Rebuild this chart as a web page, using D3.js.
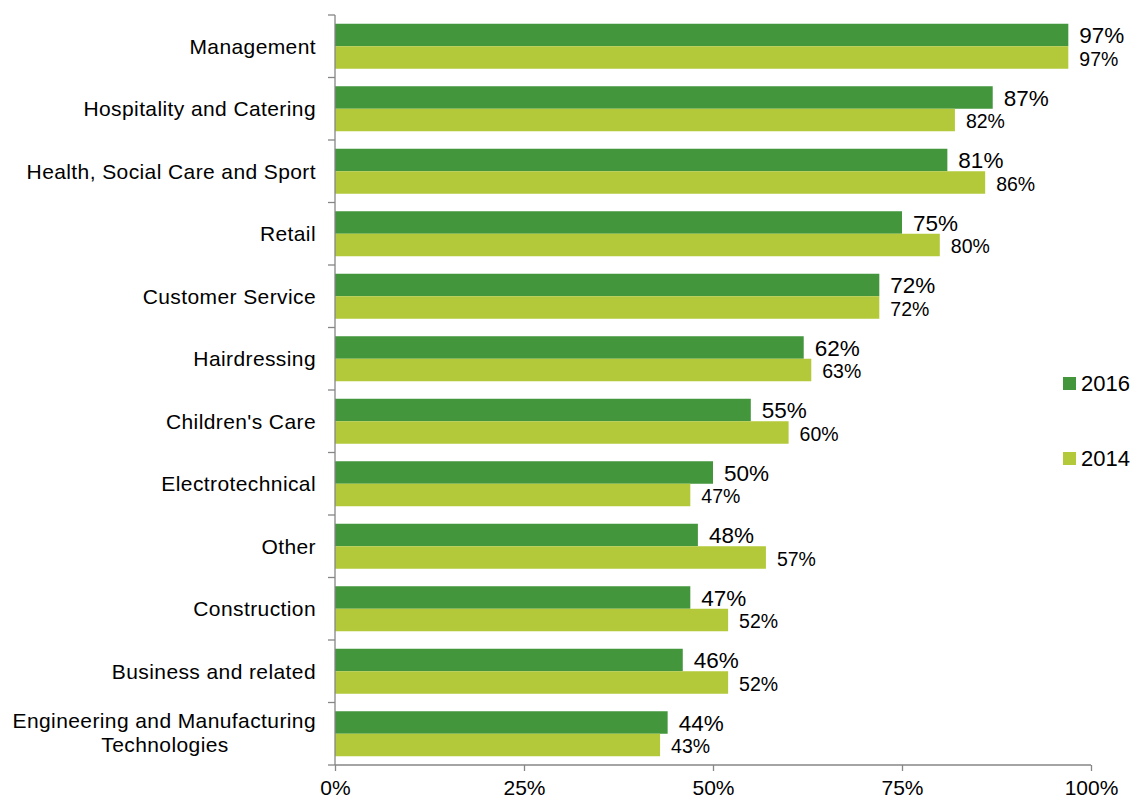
<!DOCTYPE html>
<html><head><meta charset="utf-8">
<script src="https://cdn.jsdelivr.net/npm/d3@7"></script>
<style>body{margin:0;background:#fff;} svg{display:block;font-family:"Liberation Sans",Arial,sans-serif;}</style>
</head><body><svg id="c" width="1136" height="801"></svg>
<script>
const categories = ["Management","Hospitality and Catering","Health, Social Care and Sport","Retail","Customer Service","Hairdressing","Children's Care","Electrotechnical","Other","Construction","Business and related","Engineering and Manufacturing Technologies"];
const values2016 = [97,87,81,75,72,62,55,50,48,47,46,44];
const values2014 = [97,82,86,80,72,63,60,47,57,52,52,43];
const seriesNames = ["2016","2014"];
const seriesColors = ["#43963c","#b3c93a"];
const xTicks = [0,25,50,75,100];

const svg = d3.select("#c");
const x = d3.scaleLinear().domain([0,100]).range([335,1091]);
const y = d3.scaleBand().domain(categories).range([15,765]).paddingInner(0.28).paddingOuter(0.14);
const sub = d3.scaleBand().domain(seriesNames).range([0,y.bandwidth()]);
const series = [values2016, values2014];

// bars
series.forEach((vals,si)=>{
  svg.append("g").selectAll("rect").data(categories).join("rect")
    .attr("x", x(0)).attr("y", d=>y(d)+sub(seriesNames[si]))
    .attr("width", (d,i)=>x(vals[i])-x(0)).attr("height", sub.bandwidth())
    .attr("fill", seriesColors[si]);
  svg.append("g").selectAll("text").data(categories).join("text")
    .attr("x",(d,i)=>x(vals[i])+ 11)
    .attr("y", d=>y(d)+sub(seriesNames[si])+sub.bandwidth()/2 + (si===0?0:1))
    .attr("dy", "0.36em")
    .attr("font-size", si===0?22.5:19.5).attr("fill","#000")
    .text((d,i)=>vals[i]+"%");
});

// y axis
const yAxis = svg.append("g");
yAxis.append("line").attr("x1",335).attr("x2",335).attr("y1",15).attr("y2",765).attr("stroke","#868686").attr("stroke-width",1.3);
const bounds = d3.range(categories.length+1).map(i=>15+i*y.step());
yAxis.selectAll("line.t").data(bounds).join("line").attr("class","t")
  .attr("x1",328).attr("x2",335).attr("y1",d=>d).attr("y2",d=>d).attr("stroke","#868686").attr("stroke-width",1.3);

// category labels
svg.append("g").selectAll("text").data(categories).join("text")
  .attr("font-size",21).attr("letter-spacing","0.4px").attr("fill","#000")
  .each(function(d){
    const t = d3.select(this);
    const cy = y(d)+y.bandwidth()/2;
    if(d==="Engineering and Manufacturing Technologies"){
      t.append("tspan").attr("text-anchor","end").attr("x",316).attr("y",cy-13).attr("dy","0.35em").text("Engineering and Manufacturing");
      t.append("tspan").attr("text-anchor","middle").attr("x",165).attr("y",cy+11).attr("dy","0.35em").text("Technologies");
    } else {
      t.attr("text-anchor","end").attr("x",316).attr("y",cy).attr("dy","0.35em").text(d);
    }
  });

// x axis
const xa = svg.append("g").attr("transform","translate(0,765)")
  .call(d3.axisBottom(x).tickValues(xTicks).tickSize(6).tickPadding(9).tickFormat(d=>d+"%"));
xa.select(".domain").attr("stroke","#868686").attr("stroke-width",1.3).attr("d","M335,0H1091");
xa.selectAll(".tick line").attr("stroke","#868686").attr("stroke-width",1.3);
xa.selectAll(".tick text").attr("font-size",21).attr("fill","#000").attr("font-family","Liberation Sans, Arial, sans-serif");

// legend
const lg = svg.append("g");
seriesNames.forEach((s,i)=>{
  const ly = 383 + i*75;
  lg.append("rect").attr("x",1063).attr("y",ly-6).attr("width",13).attr("height",13).attr("fill",seriesColors[i]);
  lg.append("text").attr("x",1081).attr("y",ly).attr("dy","0.36em").attr("font-size",22).attr("fill","#000").text(s);
});
</script></body></html>
